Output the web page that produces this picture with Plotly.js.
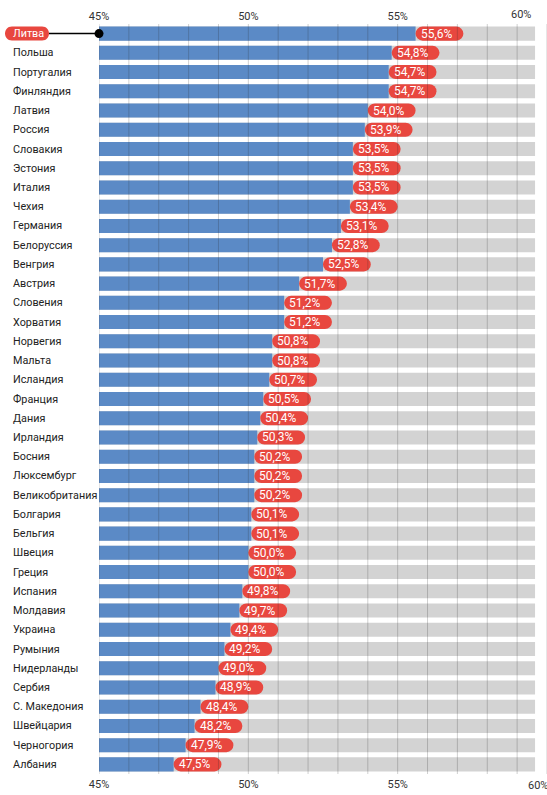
<!DOCTYPE html>
<html>
<head>
<meta charset="utf-8">
<script src="https://cdn.plot.ly/plotly-3.0.1.min.js"></script>
<style>
  html, body { margin: 0; padding: 0; background: #ffffff; overflow: hidden; }
  #chart { width: 547px; height: 795px; }
</style>
</head>
<body>
<div id="chart"></div>
<script>
// ---- data ----
var countries = [
  "Литва", "Польша", "Португалия", "Финляндия", "Латвия", "Россия", "Словакия",
  "Эстония", "Италия", "Чехия", "Германия", "Белоруссия", "Венгрия", "Австрия",
  "Словения", "Хорватия", "Норвегия", "Мальта", "Исландия", "Франция", "Дания",
  "Ирландия", "Босния", "Люксембург", "Великобритания", "Болгария", "Бельгия",
  "Швеция", "Греция", "Испания", "Молдавия", "Украина", "Румыния", "Нидерланды",
  "Сербия", "С. Македония", "Швейцария", "Черногория", "Албания"
];
var values = [
  55.6, 54.8, 54.7, 54.7, 54.0, 53.9, 53.5,
  53.5, 53.5, 53.4, 53.1, 52.8, 52.5, 51.7,
  51.2, 51.2, 50.8, 50.8, 50.7, 50.5, 50.4,
  50.3, 50.2, 50.2, 50.2, 50.1, 50.1,
  50.0, 50.0, 49.8, 49.7, 49.4, 49.2, 49.0,
  48.9, 48.4, 48.2, 47.9, 47.5
];
var highlighted = "Литва";
var axisMin = 45, axisMax = 60;
var tickVals = [45, 50, 55];
var tickText = ["45%", "50%", "55%"];
var gridVals = [45,46,47,48,49,50,51,52,53,54,55,56,57,58,59,60];

// ---- styles ----
var BLUE = "#5b8ac6", RED = "#e8473f", GREY = "#d3d3d3", TEXT = "#222222";
var FONT = "Roboto, 'Liberation Sans', sans-serif";
var BG_END = 59.6;     // where grey background bars stop
var PILL_LEN = 1.6;    // length of the red value pill (axis units)

var labels = values.map(function (v) { return v.toFixed(1).replace(".", ",") + "%"; });
var hlIndex = countries.indexOf(highlighted);

var bgTrace = {
  type: "bar", orientation: "h", y: countries,
  x: countries.map(function () { return BG_END - axisMin; }),
  base: axisMin, marker: { color: GREY }, hoverinfo: "skip", showlegend: false
};
var valTrace = {
  type: "bar", orientation: "h", y: countries,
  x: values.map(function (v) { return v - axisMin; }),
  base: axisMin, marker: { color: BLUE }, hoverinfo: "skip", showlegend: false
};
var pillTrace = {
  type: "bar", orientation: "h", y: countries,
  x: values.map(function () { return PILL_LEN; }),
  base: values, marker: { color: RED, cornerradius: 7 },
  hoverinfo: "skip", showlegend: false
};
var dotTrace = {
  type: "scatter", mode: "markers", x: [axisMin], y: [highlighted],
  xaxis: "x2", yaxis: "y",
  marker: { color: "#000000", size: 9 }, cliponaxis: false,
  hoverinfo: "skip", showlegend: false
};

var shapes = gridVals.map(function (g) {
  return { type: "line", layer: "above", xref: "x", yref: "paper",
           x0: g, x1: g, y0: 0, y1: 1,
           line: { color: "rgba(40,40,40,0.22)", width: 1 } };
});
// connector from the highlighted label to the axis start (paper x = 0 is 45%)
shapes.push({
  type: "line", layer: "above", xref: "paper", xsizemode: "pixel", xanchor: 0,
  x0: -50, x1: 0, yref: "y", y0: hlIndex, y1: hlIndex,
  line: { color: "#000000", width: 1.5 }
});
// rounded pill behind the highlighted country's name
shapes.push({
  type: "path", layer: "above", xref: "paper", xsizemode: "pixel", xanchor: 0,
  yref: "y", ysizemode: "pixel", yanchor: hlIndex,
  path: "M -87 -7 L -57 -7 C -47.7 -7 -47.7 7 -57 7 L -87 7 C -96.3 7 -96.3 -7 -87 -7 Z",
  fillcolor: RED, line: { width: 0 }
});

var annotations = countries.map(function (c) {
  var hl = (c === highlighted);
  return { xref: "paper", yref: "y", x: 0, y: c, xanchor: "left", xshift: -88,
           text: c, showarrow: false,
           font: { family: FONT, size: 10.8, color: hl ? "#ffffff" : TEXT } };
});
values.forEach(function (v, i) {
  annotations.push({ xref: "x", yref: "y", x: v, y: countries[i], xanchor: "left", xshift: 3,
    text: labels[i], showarrow: false,
    font: { family: FONT, size: 12, color: "#ffffff" } });
});
// "60%" labels sit at the cut-off right edge
annotations.push({ xref: "x", yref: "paper", x: axisMax, y: 1, xanchor: "center", yanchor: "bottom",
  xshift: -26, yshift: 1, text: "60%", showarrow: false, font: { family: FONT, size: 11, color: "#333" } });
annotations.push({ xref: "x", yref: "paper", x: axisMax, y: 0, xanchor: "center", yanchor: "top",
  xshift: -9, yshift: -3, text: "60%", showarrow: false, font: { family: FONT, size: 11, color: "#333" } });

var layout = {
  width: 547, height: 795,
  margin: { l: 99, r: 0, t: 24, b: 21, autoexpand: false },
  paper_bgcolor: "#ffffff", plot_bgcolor: "#ffffff",
  barmode: "overlay", bargap: 0.27,
  font: { family: FONT, size: 11, color: "#333" },
  xaxis: { range: [axisMin, axisMax], tickvals: tickVals, ticktext: tickText, automargin: false,
           showgrid: false, zeroline: false, showline: false, ticks: "", ticklabelstandoff: 2,
           tickfont: { size: 11, color: "#333" }, fixedrange: true },
  xaxis2: { overlaying: "x", matches: "x", side: "top", anchor: "y", automargin: false,
            tickvals: tickVals, ticktext: tickText, ticklabelstandoff: 1,
            showgrid: false, zeroline: false, showline: false, ticks: "",
            tickfont: { size: 11, color: "#333" }, fixedrange: true },
  yaxis: { type: "category", categoryorder: "array", categoryarray: countries,
           range: [countries.length - 0.5, -0.5], autorange: false,
           showticklabels: false, automargin: false,
           showgrid: false, zeroline: false, showline: false, ticks: "", fixedrange: true },
  shapes: shapes,
  annotations: annotations
};

Plotly.newPlot("chart", [bgTrace, valTrace, pillTrace, dotTrace], layout,
  { displayModeBar: false, staticPlot: true });
</script>
</body>
</html>
